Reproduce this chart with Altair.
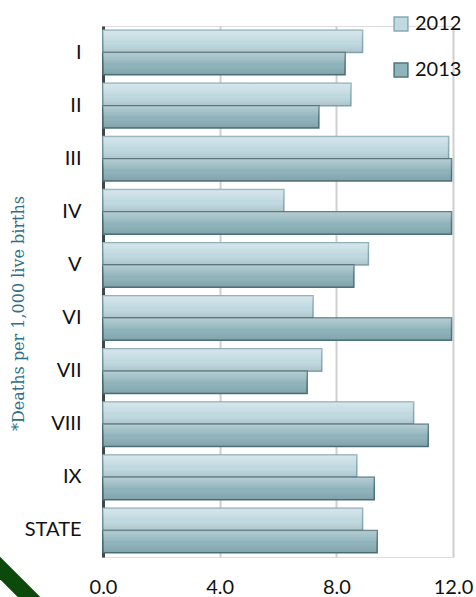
import altair as alt
import pandas as pd

regions = ["I", "II", "III", "IV", "V", "VI", "VII", "VIII", "IX", "STATE"]
v2012 = [8.9, 8.5, 11.85, 6.2, 9.1, 7.2, 7.5, 10.65, 8.7, 8.9]
v2013 = [8.3, 7.4, 11.95, 11.95, 8.6, 11.95, 7.0, 11.15, 9.3, 9.4]
years = ["2012", "2013"]
x_ticks = [0, 4, 8, 12]

rows = []
for r, a, b in zip(regions, v2012, v2013):
    rows.append({"region": r, "year": years[0], "value": a})
    rows.append({"region": r, "year": years[1], "value": b})
df = pd.DataFrame(rows)

fills = ["#c1dae1", "#90b4bc"]
strokes = ["#86aab4", "#4f747c"]

W, H = 350, 531
PL, PT = 103, 26

x = alt.X("value:Q", scale=alt.Scale(domain=[0, 12], nice=False, zero=True),
          axis=alt.Axis(values=x_ticks, format=".1f", title=None, grid=True,
                        gridColor="#cfcfcf", gridWidth=2, domain=False, ticks=False,
                        labelFont="Lato", labelFontSize=20, labelColor="#111",
                        labelPadding=20, labelFlush=False, labelOverlap=False,
                        labelAlign="center", labelBound=False))
y = alt.Y("region:N", sort=regions,
          scale=alt.Scale(paddingInner=0.16, paddingOuter=0.08),
          axis=alt.Axis(title="*Deaths per 1,000 live births", titleFont="DejaVu Serif",
                        titleFontSize=16, titleFontWeight="normal", titleColor="#2f6f86",
                        titleX=-85, titleY=287, titleAlign="center", titleAngle=-90,
                        titleBaseline="middle",
                        labelFont="Lato", labelFontSize=20, labelColor="#111",
                        labelPadding=22, ticks=False, domain=True,
                        domainColor="#3d4848", domainWidth=3))

legend = alt.Legend(title=None, orient="none", legendX=288, legendY=-12,
                    symbolType="square", symbolSize=190,
                    symbolStrokeWidth=1.5, padding=0,
                    labelFont="Lato", labelFontSize=20, labelColor="#111",
                    rowPadding=26, labelOffset=4)

base = alt.Chart(df)

bars = base.mark_bar(strokeWidth=1.5, cornerRadius=0).encode(
    x=x, y=y,
    yOffset=alt.YOffset("year:N", scale=alt.Scale(paddingInner=0, paddingOuter=0)),
    color=alt.Color("year:N", scale=alt.Scale(domain=years, range=fills), legend=legend),
    stroke=alt.Stroke("year:N", scale=alt.Scale(domain=years, range=strokes), legend=legend),
)

shine = base.mark_bar(
    fill=alt.LinearGradient(
        gradient="linear", x1=0, x2=0, y1=0, y2=1,
        stops=[alt.GradientStop(color="rgba(255,255,255,0.35)", offset=0),
               alt.GradientStop(color="rgba(255,255,255,0.05)", offset=0.45),
               alt.GradientStop(color="rgba(0,0,0,0.0)", offset=0.6),
               alt.GradientStop(color="rgba(0,0,0,0.10)", offset=1)]),
    strokeWidth=0,
).encode(
    x=x, y=y,
    yOffset=alt.YOffset("year:N"),
)

stripe = alt.Chart(pd.DataFrame({"k": [0]})).mark_rule(
    color="#0b4a0b", strokeWidth=16, strokeCap="butt"
).encode(
    x=alt.value(-PL - 14), y=alt.value(568 - PT - 14),
    x2=alt.value(-PL + 40), y2=alt.value(568 - PT + 40),
)

chart = alt.layer(bars, shine, stripe).properties(
    width=W, height=H,
    autosize=alt.AutoSizeParams(type="none"),
    padding={"left": PL, "top": PT, "right": 476 - PL - W, "bottom": 597 - PT - H},
).configure_view(stroke=None).configure_axisX(labelFlush=False).configure(background="white")

chart.save("out.html", embed_options={"renderer": "svg", "actions": False})
